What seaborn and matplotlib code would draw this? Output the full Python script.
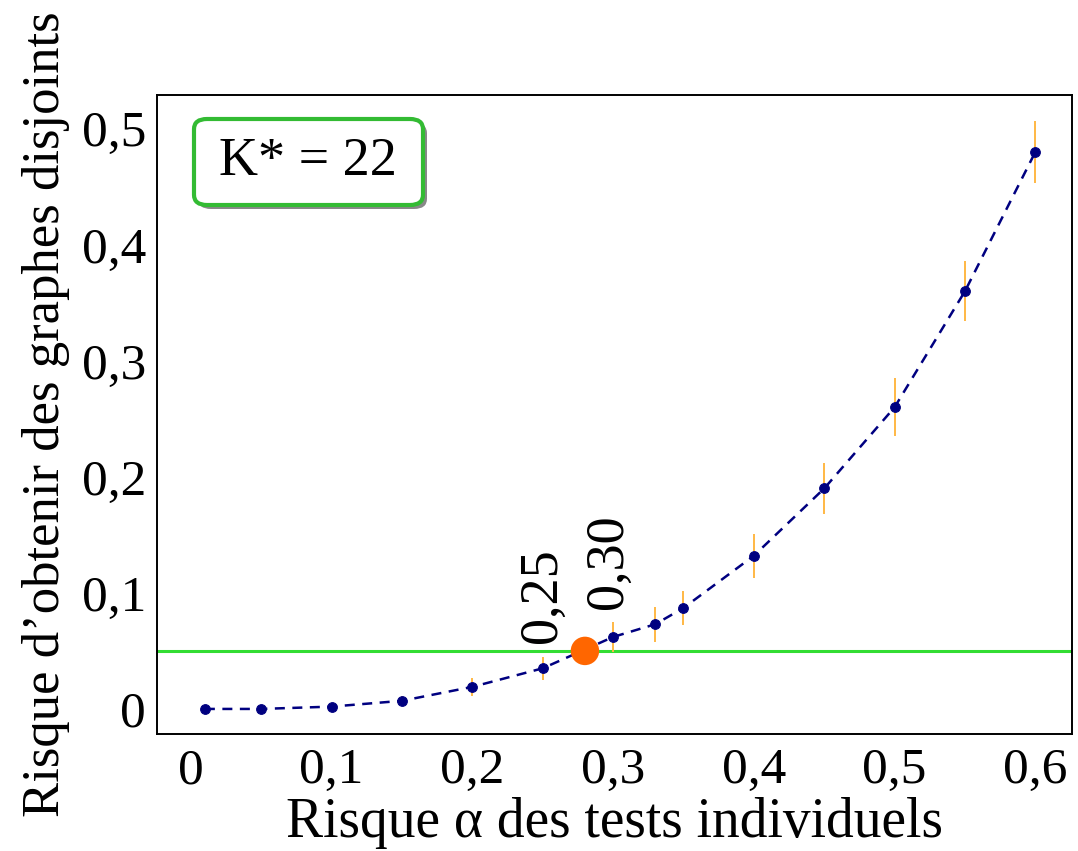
import matplotlib
matplotlib.use("Agg")
import matplotlib.pyplot as plt
import seaborn as sns
import pandas as pd
from matplotlib.patches import FancyBboxPatch

alpha = [0.01, 0.05, 0.10, 0.15, 0.20, 0.25, 0.30, 0.33, 0.35, 0.40, 0.45, 0.50, 0.55, 0.60]
risk = [0.0, 0.0, 0.002, 0.007, 0.019, 0.035, 0.062, 0.073, 0.087, 0.132, 0.190, 0.260, 0.360, 0.480]
err = [0.0, 0.0, 0.002, 0.004, 0.008, 0.010, 0.013, 0.015, 0.015, 0.019, 0.022, 0.025, 0.026, 0.027]
threshold = 0.05
cross_x = 0.28
xticks = [0, 0.1, 0.2, 0.3, 0.4, 0.5, 0.6]
yticks = [0, 0.1, 0.2, 0.3, 0.4, 0.5]
tick_labels_x = ["0", "0,1", "0,2", "0,3", "0,4", "0,5", "0,6"]
tick_labels_y = ["0", "0,1", "0,2", "0,3", "0,4", "0,5"]

sns.set_theme(style="white")
plt.rcParams['font.family'] = ['Liberation Serif', 'DejaVu Serif']
plt.rcParams['text.color'] = 'black'
plt.rcParams['axes.labelcolor'] = 'black'

df = pd.DataFrame({"alpha": alpha, "risk": risk})

fig = plt.figure(figsize=(10.78, 8.51), dpi=100)
ax = fig.add_axes([157/1078, 1 - 734/851, (1072-157)/1078, (734-95)/851])

ax.axhline(threshold, color="#33dd33", lw=2.2, zorder=1)
ax.errorbar(alpha, risk, yerr=err, fmt="none", ecolor="#ffb844", elinewidth=1.4, zorder=2)
sns.lineplot(data=df, x="alpha", y="risk", ax=ax, color="#000080", linestyle=(0, (4, 3)),
             lw=1.8, marker="o", markersize=7, markeredgecolor="#000080", zorder=3)
sns.scatterplot(x=[cross_x], y=[threshold], ax=ax, color="#ff6600", s=420, edgecolor="none", zorder=4)

ax.text(0.25, 0.057, "0,25", rotation=90, fontsize=39, ha="center", va="bottom", color="black")
ax.text(0.297, 0.086, "0,30", rotation=90, fontsize=39, ha="center", va="bottom", color="black")

ax.set_xlim(-0.024, 0.626)
ax.set_ylim(-0.0216, 0.529)
ax.set_xticks(xticks)
ax.set_xticklabels(tick_labels_x)
ax.set_yticks(yticks)
ax.set_yticklabels(tick_labels_y)
ax.tick_params(direction="in", length=10, width=1.2, labelsize=37, colors="black", pad=8)
ax.tick_params(axis="x", pad=10)
for s in ax.spines.values():
    s.set_color("black")
    s.set_linewidth(1.4)

ax.set_xlabel("Risque α des tests individuels", fontsize=40, labelpad=2, color="black")
ax.set_ylabel("Risque d’obtenir des graphes disjoints", fontsize=38, labelpad=8, color="black")

# K* box with shadow
shadow = FancyBboxPatch((198/1078, 1 - 209/851), (425-196)/1078, (205-119)/851,
                        boxstyle="round,pad=0,rounding_size=0.012", transform=fig.transFigure,
                        facecolor="#888888", edgecolor="none", zorder=5)
box = FancyBboxPatch((194/1078, 1 - 205/851), (425-196)/1078, (205-119)/851,
                     boxstyle="round,pad=0,rounding_size=0.012", transform=fig.transFigure,
                     facecolor="white", edgecolor="#33bb33", lw=3, zorder=6)
fig.patches.extend([shadow, box])
fig.text(308/1078, 1 - 162/851, "K* = 22", fontsize=39, ha="center", va="center", zorder=7, color="black")

fig.savefig("out.png", dpi=100)
